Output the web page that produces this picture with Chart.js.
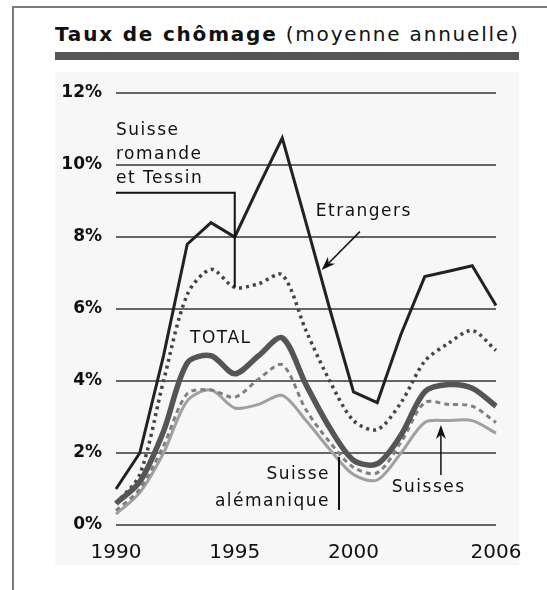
<!DOCTYPE html>
<html lang="fr">
<head>
    <meta charset="UTF-8">
    <title>Taux de chômage (moyenne annuelle)</title>
    <script src="https://cdn.jsdelivr.net/npm/chart.js"></script>
    <style>
        html, body { margin: 0; padding: 0; background: #fff; overflow: hidden; }
        body { width: 547px; height: 590px; position: relative; font-family: "DejaVu Sans", sans-serif; }
        .cadre { position: absolute; left: 12px; top: 6px; width: 600px; height: 640px; border: 2px solid #7a7a7a; }
        .titre { position: absolute; left: 55px; top: 22px; font-size: 20px; letter-spacing: 1.8px; color: #111; white-space: nowrap; }
        .titre b { font-weight: bold; }
        .barre { position: absolute; left: 55px; top: 52px; width: 464px; height: 8px; background: #555; }
        .fond { position: absolute; left: 55px; top: 72px; width: 464px; height: 493px; background: #f7f7f7; }
        canvas { position: absolute; left: 0; top: 0; }
    </style>
</head>
<body>
    <div class="cadre"></div>
    <div class="titre"><b>Taux de chômage</b> (moyenne annuelle)</div>
    <div class="barre"></div>
    <div class="fond"></div>
    <canvas id="chomage" width="547" height="590"></canvas>

    <script>
        // années et valeurs (%)
        const years = ['1990', '1991', '1992', '1993', '1994', '1995', '1996', '1997', '1998',
                       '1999', '2000', '2001', '2002', '2003', '2004', '2005', '2006'];
        const shownYears = ['1990', '1995', '2000', '2006'];

        const etrangers = [1.0, 2.0, 4.7, 7.8, 8.4, 8.0, 9.4, 10.75, 8.4, 6.0, 3.7, 3.4, 5.3, 6.9, 7.05, 7.2, 6.1];
        const romandeTessin = [0.6, 1.4, 4.0, 6.4, 7.1, 6.6, 6.7, 6.95, 5.4, 4.0, 2.9, 2.65, 3.4, 4.55, 5.05, 5.4, 4.85];
        const total = [0.6, 1.2, 2.6, 4.5, 4.7, 4.2, 4.7, 5.2, 3.9, 2.7, 1.8, 1.7, 2.5, 3.7, 3.9, 3.8, 3.3];
        const alemanique = [0.4, 1.0, 2.2, 3.65, 3.75, 3.55, 4.05, 4.45, 3.2, 2.3, 1.6, 1.45, 2.3, 3.4, 3.35, 3.3, 2.85];
        const suisses = [0.3, 0.9, 2.0, 3.45, 3.75, 3.25, 3.35, 3.6, 2.9, 2.1, 1.4, 1.25, 2.0, 2.85, 2.9, 2.9, 2.55];

        // étiquettes dans le graphique (x = index de l'année, y = %)
        const labelsText = [
            { text: 'Suisse', x: 0, y: 10.97, align: 'left' },
            { text: 'romande', x: 0, y: 10.28, align: 'left' },
            { text: 'et Tessin', x: 0, y: 9.61, align: 'left' },
            { text: 'Etrangers', x: 8.41, y: 8.70, align: 'left' },
            { text: 'TOTAL', x: 3.12, y: 5.17, align: 'left' },
            { text: 'Suisse', x: 9.01, y: 1.39, align: 'right' },
            { text: 'alémanique', x: 9.01, y: 0.65, align: 'right' },
            { text: 'Suisses', x: 11.61, y: 1.03, align: 'left' }
        ];

        const annotations = {
            id: 'annotations',
            afterDatasetsDraw(chart) {
                const ctx = chart.ctx;
                const sx = chart.scales.x;
                const sy = chart.scales.y;
                const P = (i, v) => [sx.getPixelForValue(i), sy.getPixelForValue(v)];

                ctx.save();
                ctx.fillStyle = '#111';
                ctx.strokeStyle = '#111';
                ctx.font = '17px "DejaVu Sans"';
                ctx.letterSpacing = '1.5px';
                ctx.textBaseline = 'middle';
                labelsText.forEach(l => {
                    const [px, py] = P(l.x, l.y);
                    ctx.textAlign = l.align;
                    ctx.fillText(l.text, px, py);
                });

                // trait Suisse romande et Tessin
                ctx.lineWidth = 2;
                ctx.beginPath();
                ctx.moveTo(...P(0, 9.23));
                ctx.lineTo(...P(5, 9.23));
                ctx.lineTo(...P(5, 6.6));
                ctx.stroke();

                // trait Suisse alémanique
                ctx.beginPath();
                ctx.moveTo(...P(9.39, 1.89));
                ctx.lineTo(...P(9.39, 0.42));
                ctx.stroke();

                // flèches
                const arrow = (a, b) => {
                    const ang = Math.atan2(b[1] - a[1], b[0] - a[0]);
                    const len = 14, w = 5;
                    ctx.lineWidth = 1.5;
                    ctx.beginPath();
                    ctx.moveTo(a[0], a[1]);
                    ctx.lineTo(b[0] - Math.cos(ang) * len * 0.7, b[1] - Math.sin(ang) * len * 0.7);
                    ctx.stroke();
                    ctx.beginPath();
                    ctx.moveTo(b[0], b[1]);
                    ctx.lineTo(b[0] - Math.cos(ang) * len - Math.sin(ang) * w, b[1] - Math.sin(ang) * len + Math.cos(ang) * w);
                    ctx.lineTo(b[0] - Math.cos(ang) * len * 0.7, b[1] - Math.sin(ang) * len * 0.7);
                    ctx.lineTo(b[0] - Math.cos(ang) * len + Math.sin(ang) * w, b[1] - Math.sin(ang) * len - Math.cos(ang) * w);
                    ctx.closePath();
                    ctx.fill();
                };
                arrow(P(10.27, 8.15), P(8.66, 7.08));
                arrow(P(13.68, 1.39), P(13.68, 2.78));
                ctx.restore();
            }
        };

        const ctx = document.getElementById('chomage').getContext('2d');
        new Chart(ctx, {
            type: 'line',
            data: {
                labels: years,
                datasets: [
                    { label: 'TOTAL', data: total, borderColor: '#555', borderWidth: 5.5, tension: 0.3 },
                    { label: 'Etrangers', data: etrangers, borderColor: '#222', borderWidth: 3, tension: 0 },
                    { label: 'Suisse romande et Tessin', data: romandeTessin, borderColor: '#444', borderWidth: 3.5, borderDash: [3, 4], tension: 0.3 },
                    { label: 'Suisse alémanique', data: alemanique, borderColor: '#808080', borderWidth: 3, borderDash: [5, 4], tension: 0.3 },
                    { label: 'Suisses', data: suisses, borderColor: '#a0a0a0', borderWidth: 3, tension: 0.3 }
                ]
            },
            options: {
                responsive: false,
                animation: false,
                events: [],
                elements: { point: { radius: 0 } },
                layout: { padding: { top: 93, right: 51, left: 0, bottom: 0 } },
                plugins: {
                    legend: { display: false },
                    tooltip: { enabled: false }
                },
                scales: {
                    x: {
                        offset: false,
                        grid: { display: false },
                        border: { display: false },
                        afterFit(scale) { scale.height = 65; },
                        ticks: {
                            autoSkip: false,
                            maxRotation: 0,
                            padding: 8,
                            color: '#111',
                            font: { family: 'DejaVu Sans', size: 20 },
                            callback(v) {
                                const y = years[v];
                                return shownYears.includes(y) ? y : '';
                            }
                        }
                    },
                    y: {
                        min: 0,
                        max: 12,
                        grid: { color: '#666', lineWidth: 2, drawTicks: false },
                        border: { display: false },
                        afterFit(scale) { scale.width = 116; },
                        ticks: {
                            stepSize: 2,
                            padding: 14,
                            color: '#111',
                            font: { family: 'DejaVu Sans', size: 17, weight: 'bold' },
                            callback: v => v + '%'
                        }
                    }
                }
            },
            plugins: [annotations]
        });
    </script>
</body>
</html>
